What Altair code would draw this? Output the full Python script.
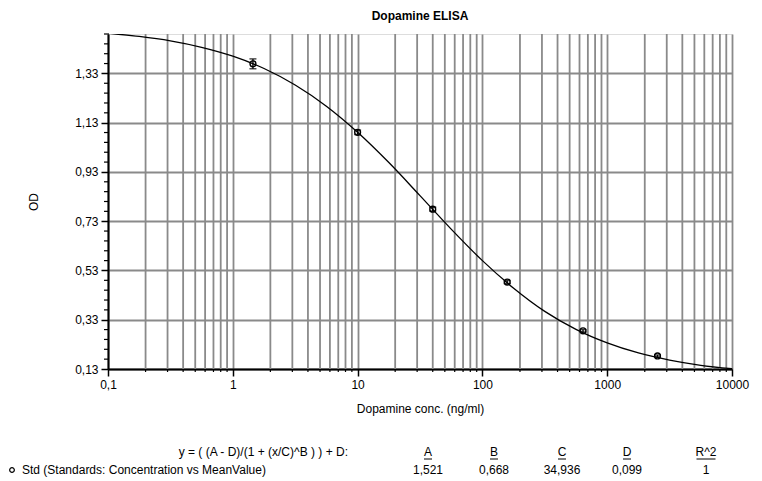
import altair as alt
import pandas as pd
import numpy as np

# ---- data ----
std_conc = [1.45, 10, 40, 158, 640, 2530]
std_od = [1.369, 1.091, 0.779, 0.483, 0.285, 0.183]
std_err = [0.020, 0.009, 0.008, 0.006, 0.005, 0.004]

curve_conc = [0.1, 0.178, 0.316, 0.562, 1, 1.78, 3.16, 5.62, 10, 17.8, 31.6,
              56.2, 100, 178, 316, 562, 1000, 1780, 3160, 5620, 10000]
curve_od = [1.493, 1.480, 1.462, 1.436, 1.400, 1.350, 1.283, 1.197, 1.091, 0.968,
            0.834, 0.698, 0.570, 0.458, 0.364, 0.291, 0.236, 0.195, 0.166, 0.145, 0.131]

x_major = [0.1, 1, 10, 100, 1000, 10000]
y_major = [0.13, 0.33, 0.53, 0.73, 0.93, 1.13, 1.33]

param_names = ["A", "B", "C", "D", "R^2"]
param_values = ["1,521", "0,668", "34,936", "0,099", "1"]
equation = "y = ( (A - D)/(1 + (x/C)^B ) ) + D:"
series_label = "Std (Standards: Concentration vs MeanValue)"

# derived tick positions
x_minor = [round(m * d, 6) for d in [0.1, 1, 10, 100, 1000] for m in range(2, 10)]
y_minor = [round(v, 2) for v in np.arange(0.17, 1.50, 0.04)]
y_minor = [v for v in y_minor if all(abs(v - m) > 1e-6 for m in y_major)]

W, H = 624, 335
FONT = "Liberation Sans"
GRID = "#8a8a8a"

xs = alt.Scale(type="log", domain=[0.1, 10000], nice=False)
ys = alt.Scale(domain=[0.13, 1.49], nice=False, zero=False)

xaxis = alt.Axis(values=x_major, title="Dopamine conc. (ng/ml)",
                 labelExpr="replace(toString(datum.value), '.', ',')",
                 grid=True, gridColor=GRID, gridWidth=1.8,
                 domainColor="black", domainWidth=2, tickColor="black",
                 tickSize=7, tickWidth=1.5, labelFontSize=12, labelFont=FONT,
                 labelColor="black", labelPadding=3, labelFlush=False,
                 titleFont=FONT, titleFontSize=12, titleFontWeight="normal",
                 titleColor="black", titlePadding=13)
yaxis = alt.Axis(values=y_major, title="OD",
                 labelExpr="replace(format(datum.value, '.2f'), '.', ',')",
                 grid=True, gridColor=GRID, gridWidth=1.8,
                 domainColor="black", domainWidth=2, tickColor="black",
                 tickSize=7, tickWidth=1.5, labelFontSize=12, labelFont=FONT,
                 labelColor="black", labelPadding=3,
                 titleFont=FONT, titleFontSize=12, titleFontWeight="normal",
                 titleColor="black", titlePadding=34)


def X():
    return alt.X("conc:Q", scale=xs, axis=xaxis)


def Y(field="od"):
    return alt.Y(f"{field}:Q", scale=ys, axis=yaxis)


minor_x_df = pd.DataFrame({"conc": x_minor})
minor_y_df = pd.DataFrame({"od": y_minor})
curve_df = pd.DataFrame({"conc": curve_conc, "od": curve_od})
std_df = pd.DataFrame({"conc": std_conc, "od": std_od,
                       "lo": [o - e for o, e in zip(std_od, std_err)],
                       "hi": [o + e for o, e in zip(std_od, std_err)]})
caps_df = pd.DataFrame({"conc": std_conc * 2,
                        "od": list(std_df["lo"]) + list(std_df["hi"])})

minor_grid = alt.Chart(minor_x_df).mark_rule(color=GRID, strokeWidth=1.8).encode(x=X())
minor_xticks = alt.Chart(minor_x_df).mark_rule(color="black", strokeWidth=1.2).encode(
    x=X(), y=alt.value(H), y2=alt.value(H + 3))
minor_yticks = alt.Chart(minor_y_df).mark_rule(color="black", strokeWidth=1.2).encode(
    y=Y(), x=alt.value(-4), x2=alt.value(1))

curve = alt.Chart(curve_df).mark_line(color="black", strokeWidth=1.3,
                                      interpolate="monotone", clip=True).encode(x=X(), y=Y())
err = alt.Chart(std_df).mark_rule(color="black", strokeWidth=1.3).encode(
    x=X(), y=Y("lo"), y2="hi:Q")
caps = alt.Chart(caps_df).mark_tick(color="black", orient="horizontal", size=7,
                                    thickness=1.5).encode(x=X(), y=Y())
pts = alt.Chart(std_df).mark_point(shape="circle", filled=False, color="black",
                                   size=34, strokeWidth=1.4, opacity=1).encode(x=X(), y=Y())

layers = [minor_grid, minor_xticks, minor_yticks, curve, err, caps, pts]

# legend / equation block under the plot
txt_style = dict(font=FONT, fontSize=12, color="black")
one = pd.DataFrame({"t": [0]})
layers.append(alt.Chart(pd.DataFrame({"t": [equation]})).mark_text(
    align="right", baseline="middle", **txt_style).encode(
    text="t:N", x=alt.value(240), y=alt.value(418)))
layers.append(alt.Chart(pd.DataFrame({"t": [series_label]})).mark_text(
    align="left", baseline="middle", **txt_style).encode(
    text="t:N", x=alt.value(-86), y=alt.value(436)))
layers.append(alt.Chart(one).mark_point(shape="circle", filled=False, color="black",
                                        size=22, strokeWidth=1.2, opacity=1).encode(
    x=alt.value(-96), y=alt.value(436)))

col_x = [320, 386, 454, 519, 598]
under_w = [8, 8, 8, 8, 19]
for name, val, cx, uw in zip(param_names, param_values, col_x, under_w):
    layers.append(alt.Chart(pd.DataFrame({"t": [name]})).mark_text(
        align="center", baseline="middle", **txt_style).encode(
        text="t:N", x=alt.value(cx), y=alt.value(418)))
    layers.append(alt.Chart(one).mark_rule(color="black", strokeWidth=1).encode(
        x=alt.value(cx - uw / 2), x2=alt.value(cx + uw / 2), y=alt.value(425)))
    layers.append(alt.Chart(pd.DataFrame({"t": [val]})).mark_text(
        align="center", baseline="middle", **txt_style).encode(
        text="t:N", x=alt.value(cx), y=alt.value(436)))

chart = alt.layer(*layers).properties(
    width=W, height=H,
    title=alt.TitleParams("Dopamine ELISA", font=FONT, fontSize=12, fontWeight="bold",
                          anchor="middle", color="black", offset=10),
    autosize=alt.AutoSizeParams(type="none"),
    padding={"left": 100, "top": 26, "right": 20, "bottom": 110},
).configure_view(stroke="black", strokeWidth=2).configure(background="white")

chart.save("out.html", embed_options={"renderer": "svg", "actions": False})
